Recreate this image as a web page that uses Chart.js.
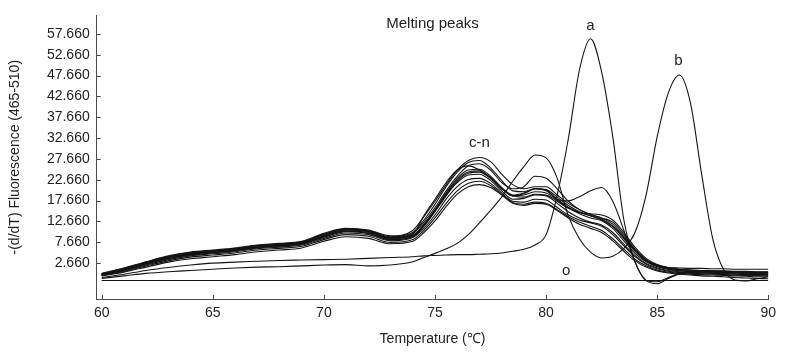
<!DOCTYPE html>
<html lang="en">
<head>
    <meta charset="UTF-8">
    <title>Melting peaks</title>
    <script src="https://cdn.jsdelivr.net/npm/chart.js"></script>
    <style>
        html, body { margin: 0; padding: 0; background: white; }
        canvas { display: block; }
    </style>
</head>
<body>
    <canvas id="meltChart" width="787" height="352"></canvas>

    <script>
        // temperature grid (°C) shared by all traces
        const temps = [60, 61, 62, 63, 64, 65, 66, 67, 68, 69, 70, 71, 72, 73, 74,
            74.5, 75, 75.5, 76, 76.5, 77, 77.5,
            78, 78.5, 79, 79.5, 80,
            80.5, 81, 81.5, 82, 82.5, 83,
            83.5, 84, 84.5, 85, 85.5,
            86, 86.5, 87, 87.5, 88, 88.5, 89, 89.5, 90];

        const xTicks = [60, 65, 70, 75, 80, 85, 90];
        const yTicks = [2.66, 7.66, 12.66, 17.66, 22.66, 27.66, 32.66, 37.66, 42.66, 47.66, 52.66, 57.66];

        // sample a
        const curveA = [-0.8, 0.0, 0.9, 1.6, 2.2, 2.66, 2.9, 3.1, 3.3, 3.4, 3.5, 3.6, 3.8, 4.0, 4.2,
            4.4, 4.5, 4.6, 4.7, 4.7, 4.8, 4.9,
            5.1, 5.5, 6.0, 7.0, 9.5,
            19.0, 32.5, 49.0, 56.5, 48.5, 33.0,
            13.0, 3.0, -1.5, -2.3, -1.0,
            0.0, 0.4, 0.5, 0.5, 0.4, 0.4, 0.3, 0.3, 0.3];

        // sample b
        const curveB = [-1.0, -0.4, 0.2, 0.6, 0.9, 1.2, 1.5, 1.7, 1.8, 2.0, 2.2, 2.3, 2.0, 2.2, 3.0,
            4.0, 5.0, 6.1, 7.4, 9.5, 12.3, 15.3,
            18.5, 22.3, 25.8, 28.6, 27.9,
            23.0, 14.0, 8.5, 5.3, 3.9, 4.3,
            6.2, 10.0, 19.0, 33.0, 43.5,
            47.8, 41.0, 24.0, 8.5, 1.0, -1.4, -1.6, -1.1, -0.6];

        // samples c-n
        const curveC = [0.2, 1.5, 3.0, 4.4, 5.3, 5.8, 6.3, 7.0, 7.4, 7.9, 9.8, 11.0, 10.6, 9.2, 10.5,
            13.8, 17.5, 21.5, 25.0, 27.3, 28.0, 27.0,
            24.0, 21.5, 20.5, 21.0, 21.0,
            19.0, 17.0, 15.5, 14.3, 13.5, 12.5,
            9.5, 6.0, 3.5, 2.2, 1.6,
            1.5, 1.4, 1.4, 1.3, 1.3, 1.2, 1.2, 1.2, 1.2];
        const curveD = [0.0, 1.3, 2.8, 4.2, 5.1, 5.6, 6.1, 6.8, 7.2, 7.7, 9.5, 10.8, 10.5, 9.0, 10.0,
            13.0, 16.8, 21.0, 24.5, 26.8, 27.3, 25.5,
            22.5, 20.0, 19.8, 20.5, 20.3,
            18.5, 16.5, 15.0, 14.0, 13.0, 11.5,
            8.5, 5.5, 3.2, 2.0, 1.4,
            1.1, 0.9, 0.8, 0.7, 0.6, 0.5, 0.5, 0.4, 0.4];
        const curveE = [0.1, 1.4, 2.9, 4.3, 5.2, 5.7, 6.2, 6.9, 7.3, 7.8, 9.6, 10.9, 10.4, 8.8, 9.8,
            12.5, 16.0, 20.0, 23.5, 26.0, 26.5, 25.0,
            22.0, 20.5, 21.0, 23.5, 23.0,
            20.5, 17.5, 15.5, 14.3, 13.5, 12.0,
            9.0, 5.8, 3.4, 2.1, 1.5,
            1.2, 1.0, 0.9, 0.8, 0.7, 0.6, 0.6, 0.5, 0.5];
        const curveF = [-0.1, 1.1, 2.6, 4.0, 4.9, 5.4, 5.9, 6.6, 7.0, 7.5, 9.2, 10.6, 10.2, 8.6, 9.6,
            14.0, 18.0, 22.0, 25.0, 26.0, 25.0, 23.0,
            20.5, 18.8, 18.5, 19.2, 19.0,
            17.5, 15.8, 14.8, 14.5, 14.2, 13.0,
            10.0, 6.5, 3.8, 2.3, 1.6,
            1.2, 1.0, 0.8, 0.7, 0.6, 0.5, 0.4, 0.4, 0.3];
        const curveG = [0.0, 1.2, 2.7, 4.1, 5.0, 5.5, 6.0, 6.7, 7.1, 7.6, 9.3, 10.7, 10.3, 8.7, 9.4,
            12.0, 15.5, 19.5, 23.0, 25.0, 25.2, 23.5,
            20.8, 19.0, 19.5, 20.5, 20.0,
            18.0, 16.0, 14.5, 13.5, 12.8, 11.0,
            8.0, 5.0, 3.0, 1.8, 1.2,
            0.9, 0.7, 0.6, 0.5, 0.4, 0.3, 0.2, 0.2, 0.1];
        const curveH = [-0.2, 1.0, 2.5, 3.8, 4.7, 5.2, 5.7, 6.4, 6.8, 7.3, 9.0, 10.3, 9.9, 8.3, 9.0,
            11.5, 15.0, 18.8, 22.3, 24.2, 24.5, 23.0,
            20.5, 18.8, 19.0, 19.8, 19.5,
            17.8, 16.0, 14.8, 14.0, 13.2, 11.5,
            8.8, 5.8, 3.3, 1.9, 1.2,
            0.8, 0.6, 0.4, 0.3, 0.2, 0.1, 0.0, -0.1, -0.1];
        const curveI = [0.0, 1.2, 2.6, 3.9, 4.8, 5.3, 5.8, 6.5, 6.9, 7.4, 9.1, 10.4, 10.0, 8.5, 9.2,
            11.8, 15.2, 19.0, 22.0, 23.8, 24.0, 22.5,
            20.0, 18.0, 18.2, 19.0, 18.8,
            17.0, 15.0, 13.5, 12.5, 11.8, 10.0,
            7.2, 4.5, 2.6, 1.5, 0.9,
            0.6, 0.4, 0.3, 0.2, 0.1, 0.0, -0.1, -0.2, -0.2];
        const curveJ = [-0.3, 0.8, 2.2, 3.5, 4.4, 4.9, 5.4, 6.1, 6.5, 7.0, 8.6, 9.9, 9.5, 8.0, 8.8,
            11.0, 14.2, 18.0, 21.0, 22.7, 23.0, 21.8,
            19.5, 17.5, 17.3, 18.0, 17.8,
            16.0, 14.2, 13.0, 12.3, 11.5, 9.5,
            6.8, 4.2, 2.4, 1.3, 0.7,
            0.4, 0.2, 0.1, 0.0, -0.1, -0.2, -0.3, -0.3, -0.4];
        const curveK = [-0.3, 0.7, 2.0, 3.2, 4.1, 4.6, 5.1, 5.8, 6.2, 6.7, 8.3, 9.5, 9.1, 7.6, 8.3,
            10.5, 13.5, 17.0, 20.0, 21.8, 22.3, 21.3,
            19.2, 17.2, 16.8, 17.3, 17.0,
            15.5, 13.8, 12.5, 11.5, 10.5, 8.5,
            6.0, 3.6, 2.0, 1.0, 0.5,
            0.2, 0.0, -0.1, -0.2, -0.3, -0.4, -0.5, -0.6, -0.6];
        const curveL = [-0.4, 0.5, 1.7, 2.9, 3.7, 4.2, 4.7, 5.4, 5.8, 6.3, 7.9, 9.0, 8.6, 7.3, 7.9,
            10.0, 12.8, 16.2, 19.2, 21.0, 21.5, 20.8,
            19.0, 17.0, 16.5, 17.0, 16.8,
            15.3, 13.5, 12.0, 11.0, 10.0, 8.0,
            5.5, 3.2, 1.7, 0.8, 0.3,
            0.0, -0.2, -0.4, -0.5, -0.6, -0.8, -0.9, -1.0, -1.1];
        const curveM = [-0.1, 1.0, 2.4, 3.7, 4.6, 5.1, 5.6, 6.3, 6.7, 7.2, 8.9, 10.2, 9.8, 8.2, 9.1,
            11.8, 15.3, 19.2, 22.6, 24.5, 24.8, 23.2,
            20.6, 18.8, 19.3, 20.5, 20.2,
            18.0, 17.6, 18.6, 20.0, 20.8, 17.5,
            10.5, 3.0, -1.5, -1.8, -0.8,
            0.2, 0.6, 0.8, 0.8, 0.8, 0.7, 0.7, 0.6, 0.6];

        // sample o (no template control), flat
        const oTemps = [60, 90];
        const curveO = [-1.5, -1.5];

        const peakNames = ['a', 'b', 'c-n', 'o'];
        const peakNameX = [82.0, 85.95, 77.0, 80.9];
        const peakNameY = [59.6, 51.3, 31.5, 0.9];

        const chartTitle = 'Melting peaks';
        const lineColor = '#141414';
        const axisColor = '#4a4a4a';
        const textColor = '#222222';
        const fontFamily = '"Liberation Sans", Arial, Helvetica, sans-serif';

        const groupCurves = [curveC, curveD, curveE, curveF, curveG, curveH, curveI, curveJ, curveK, curveL, curveM];

        function toPoints(xs, ys) {
            return ys.map((v, i) => ({ x: xs[i], y: v }));
        }

        function makeSet(xs, ys) {
            return {
                data: toPoints(xs, ys),
                borderColor: lineColor,
                borderWidth: 1.1,
                pointRadius: 0,
                fill: false,
                cubicInterpolationMode: 'monotone'
            };
        }

        const datasets = groupCurves.map(c => makeSet(temps, c));
        datasets.push(makeSet(temps, curveA));
        datasets.push(makeSet(temps, curveB));
        datasets.push(makeSet(oTemps, curveO));

        // inward tick marks, title and peak letters
        const overlay = {
            id: 'overlay',
            afterDraw(chart) {
                const { ctx, chartArea, scales: { x, y } } = chart;
                ctx.save();
                ctx.strokeStyle = axisColor;
                ctx.lineWidth = 1;
                ctx.beginPath();
                yTicks.forEach(v => {
                    const py = Math.round(y.getPixelForValue(v)) + 0.5;
                    ctx.moveTo(chartArea.left, py);
                    ctx.lineTo(chartArea.left + 4, py);
                });
                xTicks.forEach(v => {
                    const px = Math.round(x.getPixelForValue(v)) + 0.5;
                    ctx.moveTo(px, chartArea.bottom);
                    ctx.lineTo(px, chartArea.bottom - 4);
                });
                ctx.stroke();

                ctx.fillStyle = textColor;
                ctx.font = '15px ' + fontFamily;
                ctx.textAlign = 'center';
                ctx.textBaseline = 'middle';
                ctx.fillText(chartTitle, (chartArea.left + chartArea.right) / 2, chartArea.top + 8);
                peakNames.forEach((t, i) => {
                    ctx.fillText(t, x.getPixelForValue(peakNameX[i]), y.getPixelForValue(peakNameY[i]));
                });
                ctx.restore();
            }
        };

        const ctx = document.getElementById('meltChart').getContext('2d');
        const meltChart = new Chart(ctx, {
            type: 'line',
            data: { datasets: datasets },
            plugins: [overlay],
            options: {
                responsive: false,
                animation: false,
                layout: { padding: { left: 0, right: 18.7, top: 4, bottom: 0 } },
                plugins: {
                    legend: { display: false },
                    tooltip: { enabled: false }
                },
                scales: {
                    x: {
                        type: 'linear',
                        min: 59.775,
                        max: 90,
                        afterBuildTicks: s => { s.ticks = xTicks.map(v => ({ value: v })); },
                        afterFit: s => { s.height = 53; },
                        grid: { display: false, drawTicks: false },
                        border: { display: true, color: axisColor, width: 1 },
                        ticks: {
                            color: textColor,
                            padding: 6,
                            maxRotation: 0,
                            font: { family: fontFamily, size: 14 }
                        },
                        title: {
                            display: true,
                            text: 'Temperature (℃)',
                            color: textColor,
                            font: { family: fontFamily, size: 14 },
                            padding: { top: 0, bottom: 4.5 }
                        }
                    },
                    y: {
                        type: 'linear',
                        min: -5.95,
                        max: 62.1,
                        afterBuildTicks: s => { s.ticks = yTicks.map(v => ({ value: v })); },
                        afterFit: s => { s.width = 96.7; },
                        grid: { display: false, drawTicks: false },
                        border: { display: true, color: axisColor, width: 1 },
                        ticks: {
                            color: textColor,
                            padding: 7,
                            font: { family: fontFamily, size: 14 },
                            callback: v => v.toFixed(3)
                        },
                        title: {
                            display: true,
                            text: '-(d/dT) Fluorescence (465-510)',
                            color: textColor,
                            font: { family: fontFamily, size: 14 },
                            padding: { top: 7, bottom: 0 }
                        }
                    }
                }
            }
        });
    </script>
</body>
</html>
